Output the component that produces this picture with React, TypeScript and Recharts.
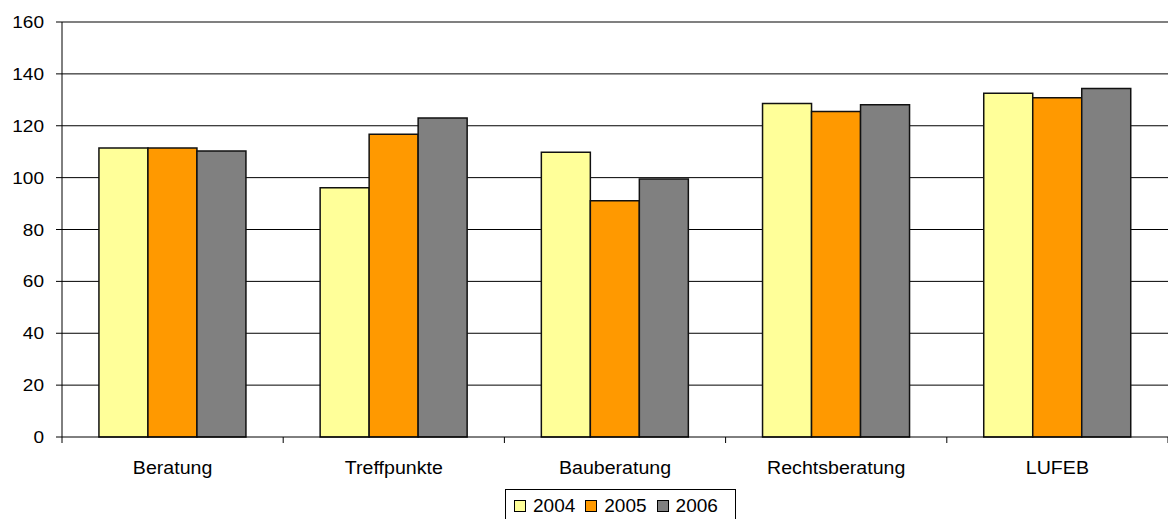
import React from "react";
import {
  BarChart,
  Bar,
  XAxis,
  YAxis,
  CartesianGrid,
  ReferenceLine,
  Legend,
} from "recharts";

const categories = ["Beratung", "Treffpunkte", "Bauberatung", "Rechtsberatung", "LUFEB"];
const series2004 = [111.4, 96.1, 109.8, 128.6, 132.5];
const series2005 = [111.4, 116.7, 91.1, 125.5, 130.8];
const series2006 = [110.3, 123.0, 99.5, 128.1, 134.4];
const seriesNames = ["2004", "2005", "2006"];
const seriesColors = ["#FFFF99", "#FF9900", "#808080"];
const yTicks = [0, 20, 40, 60, 80, 100, 120, 140, 160];

const data = categories.map((c, i) => ({
  name: c,
  "2004": series2004[i],
  "2005": series2005[i],
  "2006": series2006[i],
}));

const W = 1168;
const H = 519;
const LEFT = 62;
const RIGHT_MARGIN = 0;
const PLOT_W = W - LEFT - RIGHT_MARGIN;
const BAND = PLOT_W / categories.length;
const FONT = "'Liberation Sans', Arial, sans-serif";

const CatTick = (props: any) => {
  const { x, y, payload, index } = props;
  const isLast = index === categories.length - 1;
  return (
    <g>
      <line x1={x - BAND / 2} x2={x - BAND / 2} y1={y} y2={y + 6} stroke="#000" strokeWidth={1} />
      {isLast && (
        <line x1={x + BAND / 2} x2={x + BAND / 2} y1={y} y2={y + 6} stroke="#000" strokeWidth={1} />
      )}
      <text
        transform={`translate(${x},${y + 37}) scale(1.12,1)`}
        textAnchor="middle"
        fontFamily={FONT}
        fontSize={17.5}
        fill="#000"
      >
        {payload.value}
      </text>
    </g>
  );
};

const ValTick = (props: any) => {
  const { x, y, payload } = props;
  return (
    <text
      transform={`translate(${x},${y + 6}) scale(1.12,1)`}
      textAnchor="end"
      fontFamily={FONT}
      fontSize={17}
      fill="#000"
    >
      {payload.value}
    </text>
  );
};

const LegendContent = () => (
  <div
    style={{
      border: "1px solid #000",
      boxSizing: "border-box",
      width: 231,
      height: 34,
      display: "flex",
      alignItems: "center",
      justifyContent: "flex-start",
      paddingLeft: 8,
      gap: 10,
      background: "#fff",
      fontFamily: FONT,
      fontSize: 19,
      color: "#000",
    }}
  >
    {seriesNames.map((n, i) => (
      <div key={n} style={{ display: "flex", alignItems: "center" }}>
        <span
          style={{
            display: "inline-block",
            width: 10,
            height: 10,
            border: "1px solid #000",
            background: seriesColors[i],
            marginRight: 7,
          }}
        />
        <span>{n}</span>
      </div>
    ))}
  </div>
);

export default function App() {
  return (
    <div style={{ position: "absolute", left: 0, top: 0, width: W, height: H, background: "#fff" }}>
      <BarChart
        width={W}
        height={H}
        data={data}
        margin={{ top: 22, right: RIGHT_MARGIN, left: 0, bottom: 0 }}
        barCategoryGap="16.7%"
        barGap={0}
      >
        <CartesianGrid
          horizontal={true}
          vertical={false}
          stroke="#000"
          strokeWidth={1}
          horizontalValues={[20, 40, 60, 80, 100, 120, 140]}
        />
        <ReferenceLine y={160} stroke="#808080" strokeWidth={2} />
        <XAxis
          dataKey="name"
          type="category"
          height={50}
          tickSize={0}
          tickMargin={0}
          tickLine={false}
          axisLine={{ stroke: "#000", strokeWidth: 1 }}
          tick={<CatTick />}
          interval={0}
        />
        <YAxis
          width={LEFT}
          domain={[0, 160]}
          ticks={yTicks}
          interval={0}
          tickSize={6}
          tickMargin={12}
          axisLine={{ stroke: "#000", strokeWidth: 1 }}
          tickLine={{ stroke: "#000" }}
          tick={<ValTick />}
        />
        <Legend
          verticalAlign="bottom"
          height={32}
          content={<LegendContent />}
          wrapperStyle={{ left: 505, width: 231, bottom: -2 }}
        />
        {seriesNames.map((n, i) => (
          <Bar
            key={n}
            dataKey={n}
            fill={seriesColors[i]}
            stroke="#111"
            strokeWidth={1.5}
            isAnimationActive={false}
          />
        ))}
      </BarChart>
    </div>
  );
}
